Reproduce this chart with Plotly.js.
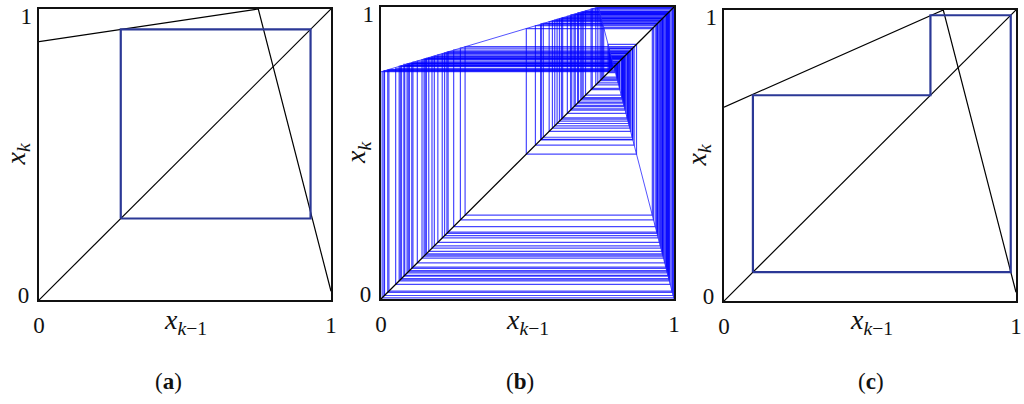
<!DOCTYPE html>
<html>
<head>
<meta charset="utf-8">
<script src="https://cdn.plot.ly/plotly-3.0.1.min.js"></script>
<style>html,body{margin:0;padding:0;background:#fff;}#chart{width:1024px;height:404px;}</style>
</head>
<body>
<div id="chart"></div>
<script>
// ---- data ----
const diagX = [0, 1];
const diagY = [0, 1];

// panel (a): piecewise-linear map and its 2-cycle
const mapAx = [0, 0.751, 1];
const mapAy = [0.888, 1, 0.03];
const orbitA = [0.28, 0.93, 0.28];

// panel (b): map and a long chaotic orbit (values read/estimated from the picture)
const mapBx = [0, 0.742, 1];
const mapBy = [0.778, 1, 0];
const orbitB = [
  0.010, 0.781, 0.849, 0.585, 0.953,
  0.182, 0.832, 0.651, 0.973,
  0.105, 0.809, 0.740, 0.999,
  0.004, 0.779, 0.857, 0.554, 0.944,
  0.217, 0.843, 0.609, 0.960,
  0.155, 0.824, 0.682, 0.982,
  0.070, 0.799, 0.779, 0.859, 0.547, 0.942,
  0.225, 0.845, 0.601, 0.958,
  0.163, 0.827, 0.671, 0.979,
  0.081, 0.800, 0.775, 0.872, 0.496, 0.926,
  0.287, 0.864, 0.527, 0.936,
  0.248, 0.852, 0.574, 0.950,
  0.194, 0.836, 0.636, 0.968,
  0.124, 0.815, 0.717, 0.993,
  0.027, 0.786, 0.829, 0.663, 0.976,
  0.093, 0.806, 0.752, 0.961,
  0.151, 0.823, 0.686, 0.983,
  0.066, 0.798, 0.783, 0.841, 0.616, 0.962,
  0.147, 0.822, 0.690, 0.984,
  0.062, 0.797, 0.787, 0.826, 0.674, 0.980,
  0.078, 0.804, 0.760, 0.930,
  0.271, 0.859, 0.545, 0.941,
  0.229, 0.847, 0.593, 0.955,
  0.174, 0.830, 0.659, 0.975,
  0.097, 0.807, 0.748, 0.977,
  0.089, 0.805, 0.756, 0.946,
  0.209, 0.840, 0.620, 0.964,
  0.140, 0.820, 0.698, 0.987,
  0.050, 0.790, 0.814, 0.721, 0.994,
  0.023, 0.785, 0.833, 0.647, 0.972,
  0.109, 0.811, 0.733, 0.997,
  0.012, 0.782
];

// panel (c): map and its 3-cycle
const mapCx = [0, 0.751, 1];
const mapCy = [0.666, 1, 0.03];
const orbitC = [0.099, 0.707, 0.982, 0.099];

const tickVals = [0, 1];
const tickText = ['0', '1'];
const panelLabels = ['a', 'b', 'c'];

// ---- build ----
const W = 1024, H = 404;
const px = v => v / W;
const py = v => 1 - v / H;
const SERIF = 'Liberation Serif, DejaVu Serif, serif';

function cobweb(orbit) {
  const xs = [], ys = [];
  for (let k = 0; k < orbit.length - 1; k++) {
    if (k === 0) { xs.push(orbit[0]); ys.push(orbit[0]); }
    xs.push(orbit[k]); ys.push(orbit[k + 1]);
    xs.push(orbit[k + 1]); ys.push(orbit[k + 1]);
  }
  return {xs, ys};
}

const traces = [];
const blueDark = '#2b3896';

// (a)
traces.push({x: mapAx, y: mapAy, xaxis: 'x', yaxis: 'y', mode: 'lines', line: {color: '#000', width: 1.2}});
traces.push({x: diagX, y: diagY, xaxis: 'x', yaxis: 'y', mode: 'lines', line: {color: '#000', width: 1.2}});
const cA = cobweb(orbitA);
traces.push({x: cA.xs, y: cA.ys, xaxis: 'x', yaxis: 'y', mode: 'lines', line: {color: blueDark, width: 2.2}});

// (b)
for (let k = 0; k < orbitB.length - 1; k++) {
  traces.push({
    x: [orbitB[k], orbitB[k], orbitB[k + 1]],
    y: [orbitB[k], orbitB[k + 1], orbitB[k + 1]],
    xaxis: 'x2', yaxis: 'y2', mode: 'lines',
    line: {color: 'rgba(0,0,255,0.72)', width: 1.2}
  });
}
traces.push({x: mapBx, y: mapBy, xaxis: 'x2', yaxis: 'y2', mode: 'lines', line: {color: 'rgba(40,40,255,0.8)', width: 1}});
traces.push({x: diagX, y: diagY, xaxis: 'x2', yaxis: 'y2', mode: 'lines', line: {color: '#000', width: 1.3}});

// (c)
traces.push({x: mapCx, y: mapCy, xaxis: 'x3', yaxis: 'y3', mode: 'lines', line: {color: '#000', width: 1.2}});
traces.push({x: diagX, y: diagY, xaxis: 'x3', yaxis: 'y3', mode: 'lines', line: {color: '#000', width: 1.2}});
const cC = cobweb(orbitC);
traces.push({x: cC.xs, y: cC.ys, xaxis: 'x3', yaxis: 'y3', mode: 'lines', line: {color: blueDark, width: 2.2}});

// invisible anchors for the overlay axes that carry the upper "1" labels
['4', '5', '6'].forEach((n, i) => {
  traces.push({x: [0], y: [1], xaxis: i === 0 ? 'x' : 'x' + (i + 1), yaxis: 'y' + n,
    mode: 'markers', marker: {opacity: 0, size: 1}, hoverinfo: 'skip'});
});

const tickFont = {family: SERIF, size: 23, color: '#111'};

function xax(l, r, anchor) {
  return {
    domain: [px(l), px(r)], range: [0, 1], anchor: anchor,
    showgrid: false, zeroline: false, showline: true, mirror: true,
    linecolor: '#111', linewidth: 2.2, ticks: '',
    tickvals: tickVals, ticktext: tickText, tickfont: tickFont,
    ticklabelstandoff: 3, ticklabeloverflow: 'allow', fixedrange: true
  };
}
function yax(t, b, anchor) {
  return {
    domain: [py(b), py(t)], range: [0, 1], anchor: anchor,
    showgrid: false, zeroline: false, showline: true, mirror: true,
    linecolor: '#111', linewidth: 2.2, ticks: '',
    tickvals: [tickVals[0]], ticktext: [tickText[0]], tickfont: tickFont,
    ticklabelstandoff: 3, ticklabelshift: -5, ticklabeloverflow: 'allow', fixedrange: true
  };
}
function yaxTop(over, anchor) {
  return {
    overlaying: over, anchor: anchor, side: 'left', range: [0, 1],
    showgrid: false, zeroline: false, showline: false, ticks: '',
    tickvals: [tickVals[1]], ticktext: [tickText[1]], tickfont: tickFont,
    ticklabelstandoff: 6, ticklabelshift: 7, ticklabeloverflow: 'allow', fixedrange: true
  };
}

const panels = [
  {l: 39, r: 331, t: 9, b: 300, xt: 185, yt: 17},
  {l: 381, r: 674, t: 7, b: 299, xt: 527, yt: 357},
  {l: 724, r: 1016, t: 10, b: 301, xt: 871, yt: 698}
];
const captionX = [168, 520, 871];

const titleFont = {family: SERIF, size: 28, color: '#111'};
const annotations = [];
panels.forEach((p, i) => {
  annotations.push({
    xref: 'paper', yref: 'paper', x: px(p.xt), y: py(321), xanchor: 'center', yanchor: 'middle',
    showarrow: false, text: '<i>x</i><sub><i>k</i>−1</sub>', font: titleFont
  });
  annotations.push({
    xref: 'paper', yref: 'paper', x: px(p.yt), y: py((p.t + p.b) / 2), xanchor: 'center', yanchor: 'middle',
    showarrow: false, textangle: -90, text: '<i>x</i><sub><i>k</i></sub>', font: titleFont
  });
  annotations.push({
    xref: 'paper', yref: 'paper', x: px(captionX[i]), y: py(381), xanchor: 'center', yanchor: 'middle',
    showarrow: false, text: '(<b>' + panelLabels[i] + '</b>)',
    font: {family: SERIF, size: 23, color: '#111'}
  });
});

const layout = {
  width: W, height: H,
  margin: {l: 0, r: 0, t: 0, b: 0},
  paper_bgcolor: '#fff', plot_bgcolor: '#fff',
  showlegend: false,
  xaxis: xax(39, 331, 'y'),
  yaxis: yax(9, 300, 'x'),
  xaxis2: xax(381, 674, 'y2'),
  yaxis2: yax(7, 299, 'x2'),
  xaxis3: xax(724, 1016, 'y3'),
  yaxis3: yax(10, 301, 'x3'),
  yaxis4: yaxTop('y', 'x'),
  yaxis5: yaxTop('y2', 'x2'),
  yaxis6: yaxTop('y3', 'x3'),
  annotations: annotations
};

Plotly.newPlot('chart', traces, layout, {displayModeBar: false, staticPlot: true});
</script>
</body>
</html>
